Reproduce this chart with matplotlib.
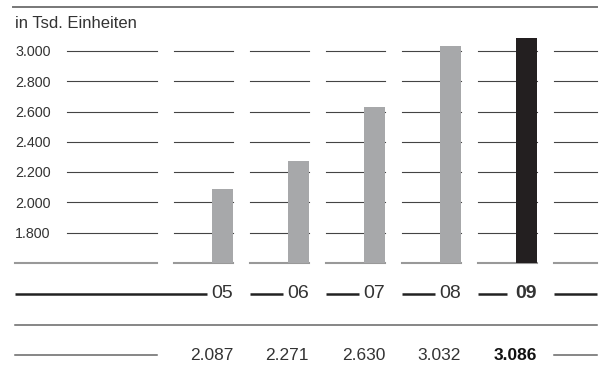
import numpy as np
import matplotlib.pyplot as plt

years = ['05', '06', '07', '08', '09']
units = [2087, 2271, 2630, 3032, 3086]
value_labels = ['2.087', '2.271', '2.630', '3.032', '3.086']
ticks = [1800, 2000, 2200, 2400, 2600, 2800, 3000]
tick_labels = ['1.800', '2.000', '2.200', '2.400', '2.600', '2.800', '3.000']
unit_label = 'in Tsd. Einheiten'
base = 1600

plt.rcParams['font.family'] = ['Liberation Sans', 'DejaVu Sans']

TEXT = '#333333'
BAR = '#a7a8aa'
BAR_HI = '#231f20'

fig = plt.figure(figsize=(6, 3.8), dpi=100)
ax = fig.add_axes([0, 0, 1, 1])
ax.set_xlim(-2.928, 4.967)
ax.set_ylim(827, 3337)
ax.axis('off')

def row(px):
    # vertical position of a table row, measured from the top edge
    return 1 - px / 380

tr = ax.get_xaxis_transform()
xs = np.arange(len(years))
left, right = -2.73, 4.928
lab_l, lab_r = -2.046, -0.862
col_l, col_r = 0.638, 0.138
last_l = len(years) - col_l

# horizontal grid segments per column
for v, lab in zip(ticks, tick_labels):
    ax.plot([lab_l, lab_r], [v, v], color='#444444', lw=0.8, zorder=1)
    for x in xs:
        ax.plot([x - col_l, x + col_r], [v, v], color='#444444', lw=0.8, zorder=1)
    ax.plot([last_l, right], [v, v], color='#444444', lw=0.8, zorder=1)
    ax.text(left, v - 8, lab, ha='left', va='center', fontsize=10.3, color=TEXT)

# baseline
ax.plot([left, lab_r], [base, base], color='#999999', lw=1.5, zorder=1)
for x in xs:
    ax.plot([x - col_l, x + col_r], [base, base], color='#999999', lw=1.5, zorder=1)
ax.plot([last_l, right], [base, base], color='#999999', lw=1.5, zorder=1)

colors = [BAR] * (len(units) - 1) + [BAR_HI]
ax.bar(xs, [u - base for u in units], bottom=base, width=0.276,
       color=colors, zorder=2)

# top rule and unit label
ax.plot([-2.757, right], [row(7), row(7)], color='#777777', lw=1.4,
        transform=tr, clip_on=False)
ax.text(left, row(28), unit_label, transform=tr, ha='left', va='baseline',
        fontsize=12, color=TEXT)

# year row
for i, (x, y) in enumerate(zip(xs, years)):
    bold = i == len(years) - 1
    start = left if i == 0 else x - col_l
    end = x - (0.257 if bold else 0.204)
    ax.plot([start, end], [row(294), row(294)], color='#222222', lw=1.8,
            transform=tr, solid_capstyle='butt')
    ax.text(x + col_r, row(294), y, transform=tr, ha='right', va='center',
            fontsize=14, color=TEXT, fontweight='bold' if bold else 'normal')
ax.plot([last_l, right], [row(294), row(294)], color='#222222', lw=1.8,
        transform=tr, solid_capstyle='butt')

# separator
ax.plot([left, right], [row(325), row(325)], color='#666666', lw=1.1,
        transform=tr)

# value row
ax.plot([left, lab_r], [row(355), row(355)], color='#666666', lw=1.1,
        transform=tr)
ax.plot([last_l, right], [row(355), row(355)], color='#666666', lw=1.1,
        transform=tr)
for i, (x, s) in enumerate(zip(xs, value_labels)):
    bold = i == len(years) - 1
    ax.text(x + col_r, row(355), s, transform=tr, ha='right', va='center',
            fontsize=12.5, color=TEXT if not bold else '#111111',
            fontweight='bold' if bold else 'normal')

fig.savefig('out.png', dpi=100)
